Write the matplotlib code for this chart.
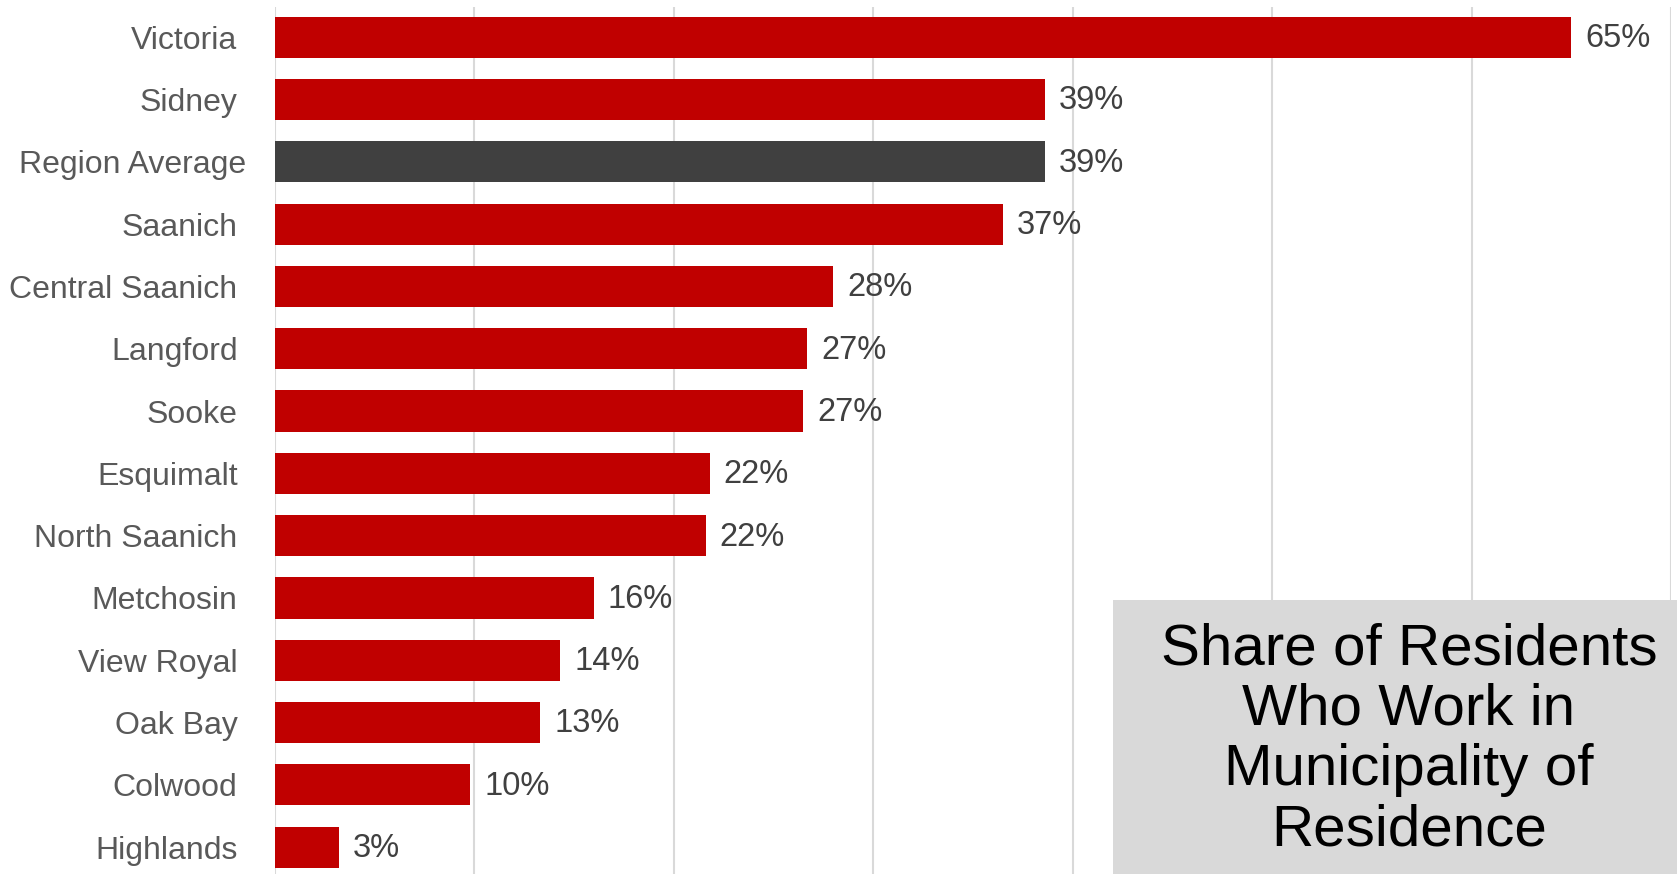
import matplotlib
matplotlib.use("Agg")
import matplotlib.pyplot as plt
from matplotlib.patches import Rectangle

plt.rcParams['font.family'] = ['Liberation Sans', 'DejaVu Sans']

# data (percent)
places = ['Victoria', 'Sidney', 'Region Average', 'Saanich', 'Central Saanich',
          'Langford', 'Sooke', 'Esquimalt', 'North Saanich', 'Metchosin',
          'View Royal', 'Oak Bay', 'Colwood', 'Highlands']
share = [65.0, 38.6, 38.6, 36.5, 28.0, 26.7, 26.5, 21.8, 21.6, 16.0,
         14.3, 13.3, 9.8, 3.2]
value_labels = ['65%', '39%', '39%', '37%', '28%', '27%', '27%', '22%', '22%',
                '16%', '14%', '13%', '10%', '3%']

RED = '#C00000'
DARK = '#404040'
GRID = '#D9D9D9'

W, H = 1677, 874
fig = plt.figure(figsize=(W / 100, H / 100), dpi=100)
ax = fig.add_axes([275 / W, 0, (1671 - 275) / W, 1 - 7 / H])

colors = [DARK if p == 'Region Average' else RED for p in places]
ypos = list(range(len(places)))
ax.barh(ypos, share, height=0.66, color=colors, zorder=3)

for y, v, lab in zip(ypos, share, value_labels):
    ax.annotate(lab, (v, y), xytext=(10, -1), textcoords='offset points',
                va='center', ha='left', fontsize=23.5, color=DARK)

ax.set_xlim(0, 70)
ax.set_ylim(13.43, -0.485)
ax.set_xticks(range(0, 71, 10))
ax.set_xticklabels([])
ax.tick_params(axis='x', length=0)
ax.grid(axis='x', color=GRID, linewidth=1.5, zorder=0)
ax.set_yticks(ypos)
ax.set_yticklabels(places, fontsize=23, color='#595959')
ax.tick_params(axis='y', length=0, pad=27)
ax.yaxis.get_major_ticks()[2].set_pad(21)
for s in ax.spines.values():
    s.set_visible(False)

# title box in the lower right corner
fig.patches.append(Rectangle((1113 / W, 0), 1 - 1113 / W, (H - 600) / H,
                             transform=fig.transFigure, facecolor=GRID,
                             edgecolor='none', zorder=5))
fig.text(1409 / W, (H - 740) / H,
         'Share of Residents\nWho Work in\nMunicipality of\nResidence',
         ha='center', va='center', fontsize=42, color='black',
         linespacing=1.15, zorder=6)

fig.savefig('out.png', dpi=100)
